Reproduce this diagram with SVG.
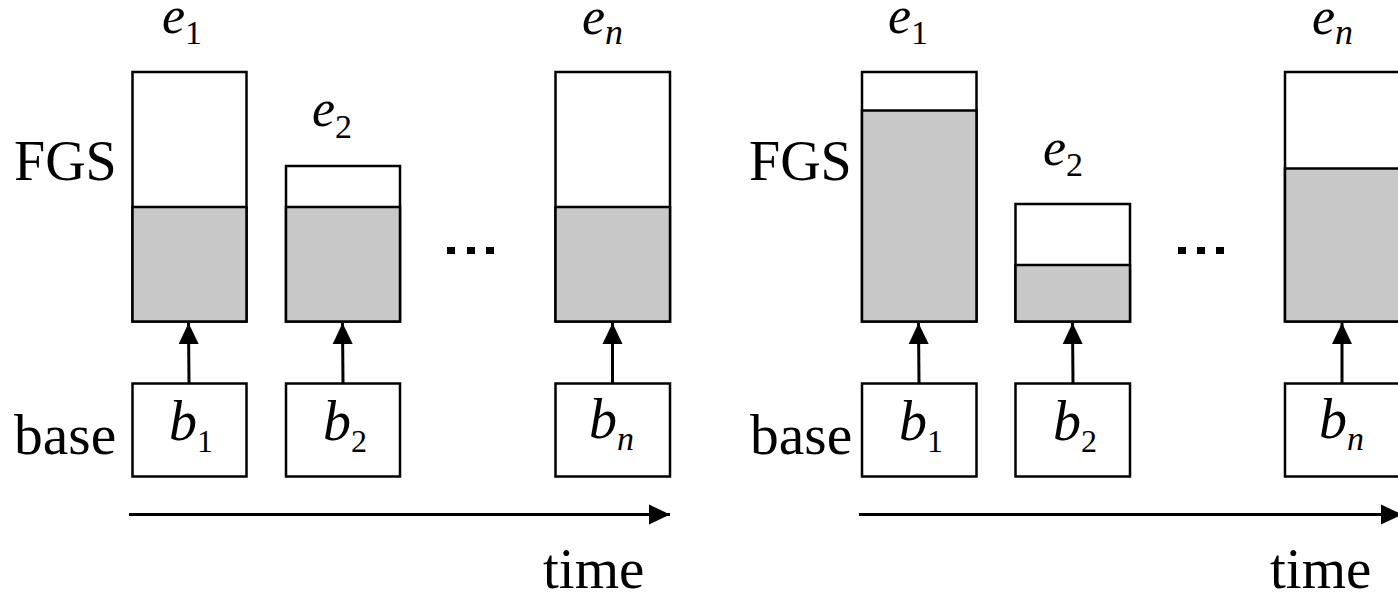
<svg xmlns="http://www.w3.org/2000/svg" width="1398" height="593" viewBox="0 0 1398 593">
  <defs>
    <style>
      .box { fill: #ffffff; stroke: #000000; stroke-width: 2.5; }
      .fill { fill: #c8c8c8; stroke: #000000; stroke-width: 2.5; }
      .edge { stroke: #000000; stroke-width: 3; fill: none; }
      .word { font-family: 'Liberation Serif', 'Times New Roman', serif; font-size: 56px; fill: #000000; }
      .mi { font-family: 'Liberation Serif', 'Times New Roman', serif; font-style: italic; fill: #000000; }
      .sub { font-style: normal; font-size: 34px; }
      .subi { font-style: italic; font-size: 36px; }
      .dot { fill: #000000; }
    </style>
    <marker id="head" markerUnits="userSpaceOnUse" markerWidth="22" markerHeight="22" viewBox="0 0 22 22" refX="21" refY="11" orient="auto">
      <path d="M0,1 L21,11 L0,21 Z" fill="#000000"/>
    </marker>
  </defs>

  <rect width="1398" height="593" fill="#ffffff"/>

  <!-- left panel: constant base layer, equal enhancement cut -->
  <g id="left-labels">
    <text class="word" x="14" y="180">FGS</text>
    <text class="word" x="14" y="454" style="font-size:57.5px">base</text>
    <text class="word" x="543" y="588" style="font-size:57px">time</text>
  </g>
  <g id="left-e1">
    <rect class="box" x="132.5" y="72" width="114" height="249.5"/>
    <rect class="fill" x="132.5" y="207" width="114" height="114.5"/>
    <text class="mi" x="162" y="33" font-size="52">e<tspan class="sub" dy="11">1</tspan></text>
  </g>
  <g id="left-e2">
    <rect class="box" x="286" y="166" width="114" height="155.5"/>
    <rect class="fill" x="286" y="207" width="114" height="114.5"/>
    <text class="mi" x="312" y="126" font-size="52">e<tspan class="sub" dy="12">2</tspan></text>
  </g>
  <g id="left-en">
    <rect class="box" x="555.5" y="72" width="114.5" height="249.5"/>
    <rect class="fill" x="555.5" y="207" width="114.5" height="114.5"/>
    <text class="mi" x="582" y="34" font-size="52">e<tspan class="subi" dy="10">n</tspan></text>
  </g>
  <g id="left-dots">
    <rect class="dot" x="447" y="247" width="8" height="7"/>
    <rect class="dot" x="467" y="247" width="8" height="7"/>
    <rect class="dot" x="486" y="247" width="8" height="7"/>
  </g>
  <g id="left-b1">
    <rect class="box" x="132.5" y="383.5" width="114" height="93"/>
    <text class="mi" x="169" y="440" font-size="56">b<tspan class="sub" dy="12" style="font-size:32px">1</tspan></text>
  </g>
  <g id="left-b2">
    <rect class="box" x="286" y="383.5" width="114" height="93"/>
    <text class="mi" x="323" y="440" font-size="56">b<tspan class="sub" dy="12" style="font-size:32px">2</tspan></text>
  </g>
  <g id="left-bn">
    <rect class="box" x="555.5" y="383.5" width="114.5" height="93"/>
    <text class="mi" x="589" y="438" font-size="56">b<tspan class="subi" dy="12" style="font-size:34px">n</tspan></text>
  </g>

  <!-- right panel: varying base layer, varying enhancement cut -->
  <g id="right-labels">
    <text class="word" x="749" y="180">FGS</text>
    <text class="word" x="750" y="454" style="font-size:57.5px">base</text>
    <text class="word" x="1270" y="588" style="font-size:57px">time</text>
  </g>
  <g id="right-e1">
    <rect class="box" x="862" y="72" width="114.5" height="249.5"/>
    <rect class="fill" x="862" y="110.5" width="114.5" height="211"/>
    <text class="mi" x="888" y="33" font-size="52">e<tspan class="sub" dy="11">1</tspan></text>
  </g>
  <g id="right-e2">
    <rect class="box" x="1015.5" y="204" width="114.5" height="117.5"/>
    <rect class="fill" x="1015.5" y="265" width="114.5" height="56.5"/>
    <text class="mi" x="1043" y="165" font-size="52">e<tspan class="sub" dy="11">2</tspan></text>
  </g>
  <g id="right-en">
    <rect class="box" x="1285" y="72" width="114.5" height="249.5"/>
    <rect class="fill" x="1285" y="168.5" width="114.5" height="153"/>
    <text class="mi" x="1312" y="34" font-size="52">e<tspan class="subi" dy="10">n</tspan></text>
  </g>
  <g id="right-dots">
    <rect class="dot" x="1178" y="247" width="8" height="7"/>
    <rect class="dot" x="1197" y="247" width="8" height="7"/>
    <rect class="dot" x="1216" y="247" width="8" height="7"/>
  </g>
  <g id="right-b1">
    <rect class="box" x="862" y="383.5" width="114.5" height="93"/>
    <text class="mi" x="899" y="440" font-size="56">b<tspan class="sub" dy="12" style="font-size:32px">1</tspan></text>
  </g>
  <g id="right-b2">
    <rect class="box" x="1015.5" y="383.5" width="114.5" height="93"/>
    <text class="mi" x="1053" y="440" font-size="56">b<tspan class="sub" dy="12" style="font-size:32px">2</tspan></text>
  </g>
  <g id="right-bn">
    <rect class="box" x="1285" y="383.5" width="114.5" height="93"/>
    <text class="mi" x="1319" y="438" font-size="56">b<tspan class="subi" dy="12" style="font-size:34px">n</tspan></text>
  </g>

  <!-- connectors: base to enhancement, and time axes -->
  <g id="connectors">
    <line class="edge" x1="189" y1="383" x2="188.5" y2="323" marker-end="url(#head)"/>
    <line class="edge" x1="343" y1="383" x2="342.5" y2="323" marker-end="url(#head)"/>
    <line class="edge" x1="612.5" y1="383" x2="612.5" y2="323" marker-end="url(#head)"/>
    <line class="edge" x1="919" y1="383" x2="918.5" y2="323" marker-end="url(#head)"/>
    <line class="edge" x1="1073" y1="383" x2="1072.5" y2="323" marker-end="url(#head)"/>
    <line class="edge" x1="1342" y1="383" x2="1342" y2="323" marker-end="url(#head)"/>
    <line class="edge" x1="129" y1="514.5" x2="670" y2="514.5" marker-end="url(#head)"/>
    <line class="edge" x1="859" y1="514.5" x2="1402" y2="514.5" marker-end="url(#head)"/>
  </g>
</svg>
